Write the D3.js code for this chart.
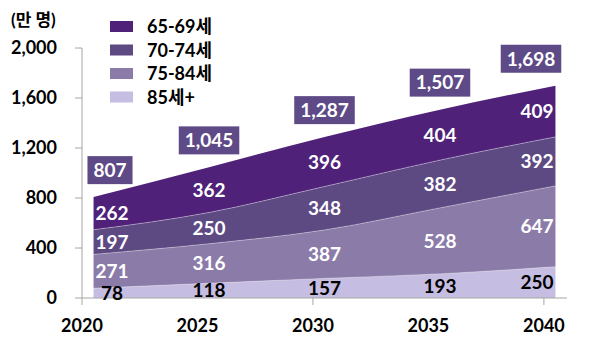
<!DOCTYPE html>
<html>
<head>
<meta charset="utf-8">
<script src="https://cdn.jsdelivr.net/npm/d3@7"></script>
<style>
  html, body { margin: 0; padding: 0; background: #fff; }
  svg { display: block; font-family: Lato, "Noto Sans CJK KR", sans-serif; font-weight: 700; }
</style>
</head>
<body>
<div id="chart"></div>
<script>
// values (만 명)
const years = [2020, 2025, 2030, 2035, 2040];
const age85plus = [78, 118, 157, 193, 250];
const age7584 = [271, 316, 387, 528, 647];
const age7074 = [197, 250, 348, 382, 392];
const age6569 = [262, 362, 396, 404, 409];
const totals = [807, 1045, 1287, 1507, 1698];

const seriesNames = ['85세+', '75-84세', '70-74세', '65-69세'];
const seriesColors = ['#c6bde2', '#8b7ba9', '#5e4a83', '#4f2179'];
const yTicks = [0, 400, 800, 1200, 1600, 2000];
const xLabels = [2020, 2025, 2030, 2035, 2040];

const width = 594, height = 341;

const svg = d3.select('#chart').append('svg')
  .attr('width', width)
  .attr('height', height);

// Excel-like category axis: points at band centres, labels at band edges
const x = d3.scaleLinear().domain([2019.5, 2040.5]).range([82, 567]);
const y = d3.scaleLinear().domain([0, 2000]).range([298, 48]);

const rows = years.map((yr, i) => ({
  year: yr,
  '85세+': age85plus[i],
  '75-84세': age7584[i],
  '70-74세': age7074[i],
  '65-69세': age6569[i]
}));

const stack = d3.stack().keys(seriesNames);
const layers = stack(rows);

const area = d3.area()
  .x(d => x(d.data.year))
  .y0(d => y(d[0]))
  .y1(d => y(d[1]))
  .curve(d3.curveMonotoneX);

const topLine = d3.line()
  .x(d => x(d.data.year))
  .y(d => y(d[1]))
  .curve(d3.curveMonotoneX);

svg.append('g').selectAll('path')
  .data(layers)
  .join('path')
  .attr('d', area)
  .attr('fill', (d, i) => seriesColors[i]);

// faint separators between layers
svg.append('g').selectAll('path')
  .data(layers.slice(0, 3))
  .join('path')
  .attr('d', topLine)
  .attr('fill', 'none')
  .attr('stroke', '#fff')
  .attr('stroke-opacity', 0.45)
  .attr('stroke-width', 0.8);

// axes
const axisColor = '#a6a6a6';
svg.append('line')
  .attr('x1', 82).attr('x2', 567)
  .attr('y1', y(0)).attr('y2', y(0))
  .attr('stroke', axisColor);
svg.append('line')
  .attr('x1', 82).attr('x2', 82)
  .attr('y1', y(2000)).attr('y2', y(0) + 7)
  .attr('stroke', axisColor);

svg.append('g').selectAll('line')
  .data(yTicks)
  .join('line')
  .attr('x1', 75).attr('x2', 82)
  .attr('y1', d => y(d)).attr('y2', d => y(d))
  .attr('stroke', axisColor);

svg.append('g').selectAll('line')
  .data([2029.5, 2039.5])
  .join('line')
  .attr('x1', d => x(d)).attr('x2', d => x(d))
  .attr('y1', y(0)).attr('y2', y(0) + 7)
  .attr('stroke', axisColor);

svg.append('g').selectAll('text')
  .data(yTicks)
  .join('text')
  .attr('x', 57)
  .attr('y', d => y(d))
  .attr('dy', '0.36em')
  .attr('text-anchor', 'end')
  .attr('font-size', 18)
  .attr('fill', '#000')
  .text(d => d3.format(',')(d));

svg.append('g').selectAll('text')
  .data(xLabels)
  .join('text')
  .attr('x', d => x(d - 0.5))
  .attr('y', 326)
  .attr('dy', '0.36em')
  .attr('text-anchor', 'middle')
  .attr('font-size', 18)
  .attr('fill', '#000')
  .text(d => d);

svg.append('text')
  .attr('x', 11).attr('y', 20)
  .attr('dy', '0.36em')
  .attr('font-size', 17)
  .text('(만 명)');

// segment labels at the middle of each layer
const labelX = yr => Math.min(537, Math.max(112, x(yr)));
layers.forEach((layer, li) => {
  svg.append('g').selectAll('text')
    .data(layer)
    .join('text')
    .attr('x', d => labelX(d.data.year))
    .attr('y', d => y((d[0] + d[1]) / 2))
    .attr('dy', '0.36em')
    .attr('text-anchor', 'middle')
    .attr('font-size', 19)
    .attr('fill', li === 0 ? '#000' : '#fff')
    .text(d => d.data[layer.key]);
});

// total labels in boxes
const totalX = yr => Math.min(531, Math.max(110, x(yr)));
const totalG = svg.append('g').selectAll('g')
  .data(years.map((yr, i) => ({ year: yr, total: totals[i] })))
  .join('g')
  .attr('transform', d => `translate(${totalX(d.year)},${y(d.total) - 27})`);

totalG.append('rect')
  .attr('fill', '#5e4a86');

totalG.append('text')
  .attr('dy', '0.36em')
  .attr('text-anchor', 'middle')
  .attr('font-size', 19)
  .attr('fill', '#fff')
  .text(d => d3.format(',')(d.total));

totalG.each(function () {
  const g = d3.select(this);
  const b = g.select('text').node().getBBox();
  g.select('rect')
    .attr('x', b.x - 6).attr('y', -14)
    .attr('width', b.width + 12).attr('height', 28);
});

// legend (top series first)
const legend = svg.append('g').selectAll('g')
  .data(seriesNames.slice().reverse())
  .join('g')
  .attr('transform', (d, i) => `translate(110,${27 + i * 23.5})`);

legend.append('rect')
  .attr('x', 0).attr('y', -6)
  .attr('width', 23).attr('height', 11)
  .attr('fill', d => seriesColors[seriesNames.indexOf(d)]);

legend.append('text')
  .attr('x', 37)
  .attr('dy', '0.36em')
  .attr('font-size', 18)
  .attr('fill', '#000')
  .text(d => d);
</script>
</body>
</html>
